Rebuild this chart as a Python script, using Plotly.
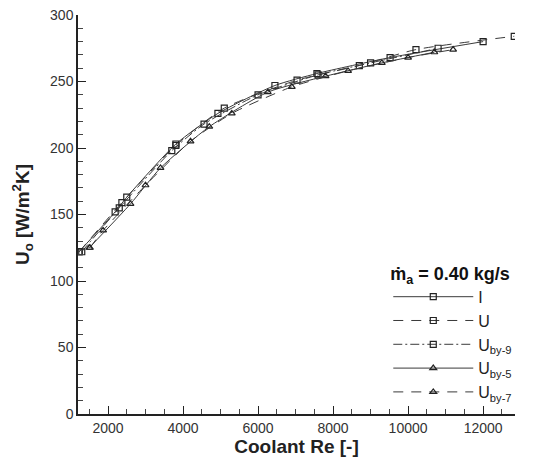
import plotly.graph_objects as go

# Data
re_I = [1230, 2190, 2500, 3810, 4930, 6450, 7570, 9520, 12000]
u_I = [122, 152, 163, 203, 226, 247, 256, 268, 280]

re_U = [1230, 2370, 3810, 5100, 7040, 8700, 10210, 12830]
u_U = [122, 159, 202, 230, 251, 262, 274, 284]

re_by9 = [1300, 2300, 3700, 4560, 6000, 7600, 9000, 10800]
u_by9 = [122, 155, 198, 218, 240, 255, 264, 275]

re_by5 = [1500, 2600, 3400, 4700, 6260, 7800, 9300, 10700]
u_by5 = [125, 158, 185, 216, 242, 254, 264, 272]

re_by7 = [1520, 1870, 3000, 4200, 5300, 6900, 8400, 10000, 11200]
u_by7 = [125, 138, 172, 205, 226, 246, 258, 268, 274]

names = ["I", "U", "U<sub>by-9</sub>", "U<sub>by-5</sub>", "U<sub>by-7</sub>"]

series = [
    (re_I, u_I, names[0], "solid", "square-open"),
    (re_U, u_U, names[1], "10px,8px", "square-open"),
    (re_by9, u_by9, names[2], "9px,3px,2px,3px", "square-open"),
    (re_by5, u_by5, names[3], "solid", "triangle-up-open"),
    (re_by7, u_by7, names[4], "10px,8px", "triangle-up-open"),
]

fig = go.Figure()
for x, y, name, dash, sym in series:
    fig.add_trace(go.Scatter(
        x=x, y=y, name=name, mode="lines+markers",
        line=dict(color="#3a3a3a", width=1, dash=dash, shape="spline", smoothing=0.6),
        marker=dict(symbol=sym, size=6, color="#222222", line=dict(width=1.2, color="#222222")),
    ))

font_family = "Liberation Sans, Arial, Helvetica, sans-serif"

fig.update_layout(
    width=526, height=454,
    margin=dict(l=70, r=19, t=7, b=48),
    paper_bgcolor="white", plot_bgcolor="white",
    font=dict(family=font_family, color="#222222"),
    showlegend=True,
    legend=dict(
        x=0.71, y=0.395, xanchor="left", yanchor="top",
        title=dict(text="<b>ṁ<sub>a</sub> = 0.40 kg/s</b>", font=dict(size=18, color="#111111")),
        font=dict(size=16, color="#222222"),
        itemwidth=80,
        bgcolor="rgba(0,0,0,0)",
        tracegroupgap=0,
    ),
    xaxis=dict(
        range=[1200, 12850], tick0=0, dtick=2000, tickformat="d",
        automargin=False, ticklabeloverflow="allow",
        showgrid=False, zeroline=False,
        showline=True, linecolor="#222222", linewidth=1.5,
        ticks="inside", ticklen=8, tickwidth=1.2, tickcolor="#222222",
        minor=dict(dtick=500, ticks="inside", ticklen=5, tickwidth=1, tickcolor="#444444", showgrid=False),
        tickfont=dict(size=14, color="#333333"),
        title=dict(text="<b>Coolant Re [-]</b>", font=dict(size=19, color="#222222"), standoff=4),
    ),
    yaxis=dict(
        range=[0, 300], tick0=0, dtick=50, tickformat="d",
        automargin=False, ticklabeloverflow="allow",
        showgrid=False, zeroline=False,
        showline=True, linecolor="#222222", linewidth=1.5,
        ticks="inside", ticklen=8, tickwidth=1.2, tickcolor="#222222",
        minor=dict(dtick=10, ticks="inside", ticklen=5, tickwidth=1, tickcolor="#444444", showgrid=False),
        tickfont=dict(size=14, color="#333333"),
        title=dict(text="<b>U<sub>o</sub> [W/m<sup>2</sup>K]</b>", font=dict(size=19, color="#222222"), standoff=15),
    ),
)

fig.write_html("out.html")
